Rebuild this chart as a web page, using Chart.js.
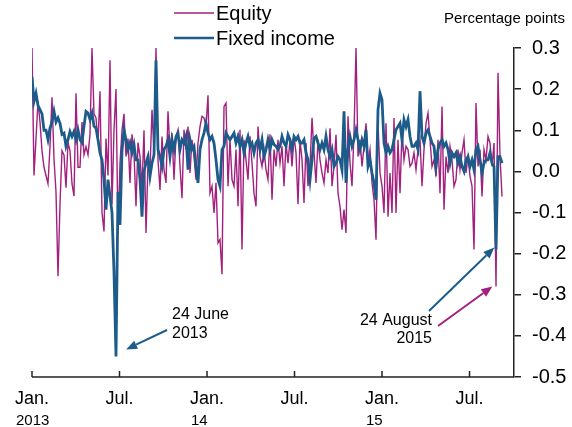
<!DOCTYPE html>
<html>
<head>
<meta charset="utf-8">
<script src="https://cdn.jsdelivr.net/npm/chart.js@4.4.0/dist/chart.umd.min.js"></script>
<style>
  html, body { margin: 0; padding: 0; background: #fff; }
  #wrap { width: 572px; height: 427px; position: relative; }
</style>
</head>
<body>
<div id="wrap"><canvas id="c" width="572" height="427"></canvas></div>
<script>
// observations every ~4 calendar days, starting Jan. 2013 (x in months since Jan. 2013)
const stepMonths = 0.13714;

const equity = [
  0.30, -0.01, 0.08, 0.17, 0.12, 0.05, 0.01, -0.01, -0.03, 0.06,
  0.18, 0.03, -0.05, -0.255, -0.08, 0.05, 0.04, -0.04, 0.07, 0.05,
  -0.03, -0.06, 0.19, 0.01, 0.01, 0.12, 0.04, 0.06, 0.04, 0.09,
  0.30, 0.14, 0.13, 0.07, 0.195, -0.10, -0.146, 0.08, -0.01, 0.27,
  -0.08, 0.10, 0.20, -0.15, 0.02, 0.10, 0.14, 0.036, 0.08, -0.028,
  0.09, 0.045, -0.085, 0.07, 0.036, -0.04, 0.10, -0.15, 0.02, 0.004,
  0.15, 0.045, 0.30, 0.028, -0.045, 0.085, 0.004, -0.028, 0.146, 0.053,
  0.093, -0.02, 0.085, 0.101, 0.012, -0.065, 0.101, 0.053, 0.109, -0.004,
  0.077, 0.036, -0.02, 0.069, 0.109, 0.134, 0.13, 0.109, 0.185, -0.053,
  -0.036, -0.101, -0.028, -0.174, -0.166, -0.25, 0.158, 0.166, -0.036, 0.077,
  -0.02, -0.036, 0.053, -0.085, 0.101, -0.19, 0.077, 0.028, -0.02, 0.085,
  0.02, -0.053, -0.085, 0.109, 0.036, 0.012, 0.053, 0.004, -0.02, 0.09,
  -0.069, 0.053, 0.012, 0.077, 0.02, 0.061, -0.036, 0.069, 0.02, 0.077,
  0.012, 0.085, 0.045, -0.08, 0.077, 0.028, -0.077, 0.069, -0.036, 0.012,
  0.13, 0.045, -0.028, 0.077, 0.028, -0.004, -0.028, 0.028, -0.004, 0.105,
  -0.036, 0.012, 0.089, -0.053, -0.085, -0.142, -0.093, -0.15, 0.134, 0.02,
  -0.036, 0.093, 0.30, 0.036, 0.077, 0.012, 0.061, 0.117, 0.02, 0.053,
  -0.028, -0.069, -0.166, 0.117, -0.004, -0.036, -0.101, 0.117, -0.11, -0.004,
  -0.101, 0.13, -0.101, 0.077, -0.053, 0.101, 0.028, 0.061, 0.053, 0.012,
  0.02, 0.045, 0.004, 0.053, 0.077, -0.036, 0.053, 0.117, 0.142, 0.077,
  0.012, 0.028, -0.012, 0.077, -0.053, 0.158, -0.093, 0.036, -0.004, 0.061,
  0.028, -0.036, -0.02, 0.053, 0.004, 0.045, 0.077, -0.004, 0.036, -0.012,
  -0.036, -0.19, 0.166, 0.012, 0.053, -0.061, 0.053, 0.028, 0.085, 0.069,
  0.012, 0.069, -0.28, 0.24, 0.036, -0.061
];

const fixedIncome = [
  0.23, 0.17, 0.19, 0.16, 0.15, 0.14, 0.10, 0.10, 0.077, 0.105,
  0.12, 0.146, 0.12, 0.13, 0.117, 0.09, 0.093, 0.061, 0.077, 0.097,
  0.085, 0.097, 0.077, 0.101, 0.077, 0.07, 0.11, 0.146, 0.142, 0.126,
  0.142, 0.11, 0.105, 0.077, 0.045, 0.028, -0.02, -0.093, -0.02, -0.06,
  -0.10, -0.245, -0.45, -0.05, -0.13, 0.05, 0.101, 0.077, 0.053, 0.069,
  0.045, 0.065, 0.028, 0.028, -0.02, -0.11, 0.0, 0.02, 0.036, -0.012,
  0.02, 0.04, 0.27, 0.053, 0.036, 0.012, 0.053, 0.061, 0.077, 0.036,
  0.077, 0.053, 0.085, 0.093, 0.053, 0.077, 0.069, 0.085, 0.004, 0.077,
  0.053, 0.061, 0.012, -0.028, 0.053, 0.077, 0.093, 0.117, 0.093, 0.077,
  0.085, 0.069, 0.028, -0.02, -0.036, 0.053, 0.061, 0.093, 0.085, 0.077,
  0.085, 0.093, 0.069, 0.085, 0.061, 0.077, 0.045, 0.069, 0.085, 0.061,
  0.069, 0.045, 0.069, 0.077, 0.053, 0.077, 0.036, 0.053, 0.077, 0.053,
  0.077, 0.065, 0.061, 0.053, 0.061, 0.085, 0.069, 0.061, 0.089, 0.077,
  0.053, 0.085, 0.077, 0.085, 0.069, 0.069, 0.077, 0.045, 0.028, -0.02,
  0.028, 0.08, 0.085, 0.069, 0.053, 0.069, 0.053, 0.085, 0.053, 0.036,
  0.053, 0.012, 0.02, 0.036, 0.028, 0.004, 0.146, -0.028, 0.053, 0.085,
  0.061, 0.077, 0.101, 0.077, 0.053, 0.077, 0.061, 0.101, 0.012, 0.028,
  -0.004, -0.028, -0.069, 0.15, 0.19, 0.174, 0.069, 0.045, 0.061, 0.045,
  0.053, 0.077, 0.101, 0.109, 0.117, 0.077, 0.126, 0.109, 0.126, 0.085,
  0.061, 0.061, 0.069, 0.053, 0.195, 0.085, 0.069, 0.093, 0.101, 0.085,
  0.069, 0.061, 0.012, 0.053, 0.069, 0.077, 0.061, 0.069, 0.053, 0.02,
  0.045, 0.036, 0.045, 0.02, 0.036, 0.012, 0.0, 0.028, 0.036, 0.012,
  0.028, 0.004, 0.053, 0.061, 0.028, -0.004, 0.02, 0.028, 0.028, 0.045,
  0.02, 0.012, -0.19, 0.036, 0.036, 0.02
];

const xTickMonths = [0, 6, 12, 18, 24, 30];
const xTickLabels = [['Jan.', '2013'], ['Jul.'], ['Jan.', '14'], ['Jul.'], ['Jan.', '15'], ['Jul.']];

// event dates, in months since Jan. 2013
const june2013 = 5.77;
const aug2015 = 31.77;

const MAGENTA = '#a3207f';
const BLUE = '#1d5b8b';
const FONT = '"Liberation Sans", Arial, sans-serif';

function toPoints(arr) {
  return arr.map((v, i) => ({x: i * stepMonths, y: v}));
}

function arrow(g, x0, y0, x1, y1, color) {
  const ang = Math.atan2(y1 - y0, x1 - x0), L = 11, W = 4.5;
  const bx = x1 - L * Math.cos(ang), by = y1 - L * Math.sin(ang);
  g.strokeStyle = color; g.lineWidth = 2;
  g.beginPath(); g.moveTo(x0, y0); g.lineTo(bx, by); g.stroke();
  g.fillStyle = color;
  g.beginPath();
  g.moveTo(x1, y1);
  g.lineTo(bx - W * Math.sin(ang), by + W * Math.cos(ang));
  g.lineTo(bx + W * Math.sin(ang), by - W * Math.cos(ang));
  g.closePath(); g.fill();
}

const extras = {
  id: 'extras',
  afterDraw(c) {
    const g = c.ctx, xs = c.scales.x, ys = c.scales.y, a = c.chartArea;
    g.save();

    // x axis with inward ticks
    g.strokeStyle = '#222'; g.lineWidth = 1.5;
    g.beginPath();
    g.moveTo(a.left, a.bottom); g.lineTo(a.right, a.bottom);
    xTickMonths.forEach(m => {
      const px = xs.getPixelForValue(m);
      g.moveTo(px, a.bottom); g.lineTo(px, a.bottom - 6);
    });
    g.stroke();

    g.fillStyle = '#000';
    g.textBaseline = 'middle';
    xTickMonths.forEach((m, i) => {
      const px = xs.getPixelForValue(m);
      const lines = xTickLabels[i];
      g.font = '18px ' + FONT;
      const w = g.measureText(lines[0]).width;
      g.textAlign = 'left';
      g.fillText(lines[0], px - w / 2, a.bottom + 22);
      if (lines[1]) {
        g.font = '15px ' + FONT;
        g.fillText(lines[1], px - w / 2 + 1, a.bottom + 44);
      }
    });

    // legend
    g.lineWidth = 1.6;
    g.strokeStyle = MAGENTA;
    g.beginPath(); g.moveTo(174, 13); g.lineTo(214, 13); g.stroke();
    g.lineWidth = 2.6;
    g.strokeStyle = BLUE;
    g.beginPath(); g.moveTo(174, 38); g.lineTo(214, 38); g.stroke();
    g.font = '20px ' + FONT;
    g.textAlign = 'left';
    g.fillText('Equity', 216, 14);
    g.fillText('Fixed income', 216, 39);

    g.font = '15px ' + FONT;
    g.textAlign = 'right';
    g.fillText('Percentage points', 565, 19);

    // annotations
    const jx = xs.getPixelForValue(june2013), jy = ys.getPixelForValue(-0.45);
    arrow(g, 167, 330, jx + 10, jy - 7, BLUE);
    g.font = '16px ' + FONT;
    g.textAlign = 'left';
    g.fillStyle = '#000';
    g.fillText('24 June', 172, 315);
    g.fillText('2013', 172, 334);

    const ax = xs.getPixelForValue(aug2015);
    arrow(g, 429, 311, ax - 1, ys.getPixelForValue(-0.19) - 2, BLUE);
    arrow(g, 438, 326, ax - 3, ys.getPixelForValue(-0.28), MAGENTA);
    g.fillStyle = '#000';
    g.textAlign = 'right';
    g.fillText('24 August', 432, 321);
    g.fillText('2015', 432, 339);

    g.restore();
  }
};

new Chart(document.getElementById('c').getContext('2d'), {
  type: 'line',
  data: {
    datasets: [
      {label: 'Equity', data: toPoints(equity), borderColor: MAGENTA, borderWidth: 1.4,
       pointRadius: 0, tension: 0, order: 2},
      {label: 'Fixed income', data: toPoints(fixedIncome), borderColor: BLUE, borderWidth: 2.8,
       pointRadius: 0, tension: 0, order: 1}
    ]
  },
  options: {
    responsive: false,
    animation: false,
    devicePixelRatio: 1,
    layout: {padding: {left: 32, top: 48, bottom: 50, right: 0}},
    plugins: {legend: {display: false}, tooltip: {enabled: false}},
    scales: {
      x: {type: 'linear', min: 0, max: 33.05, display: false},
      y: {
        position: 'right', min: -0.5, max: 0.3,
        afterFit(s) { s.width = 58; },
        ticks: {
          stepSize: 0.1, color: '#000', padding: 11,
          font: {family: FONT, size: 20},
          callback: v => (Math.abs(v) < 1e-9 ? 0 : v).toFixed(1)
        },
        grid: {drawOnChartArea: false, drawTicks: true, tickLength: 7, color: '#222', lineWidth: 1.5},
        border: {display: true, color: '#222', width: 1.5}
      }
    }
  },
  plugins: [extras]
});
</script>
</body>
</html>
